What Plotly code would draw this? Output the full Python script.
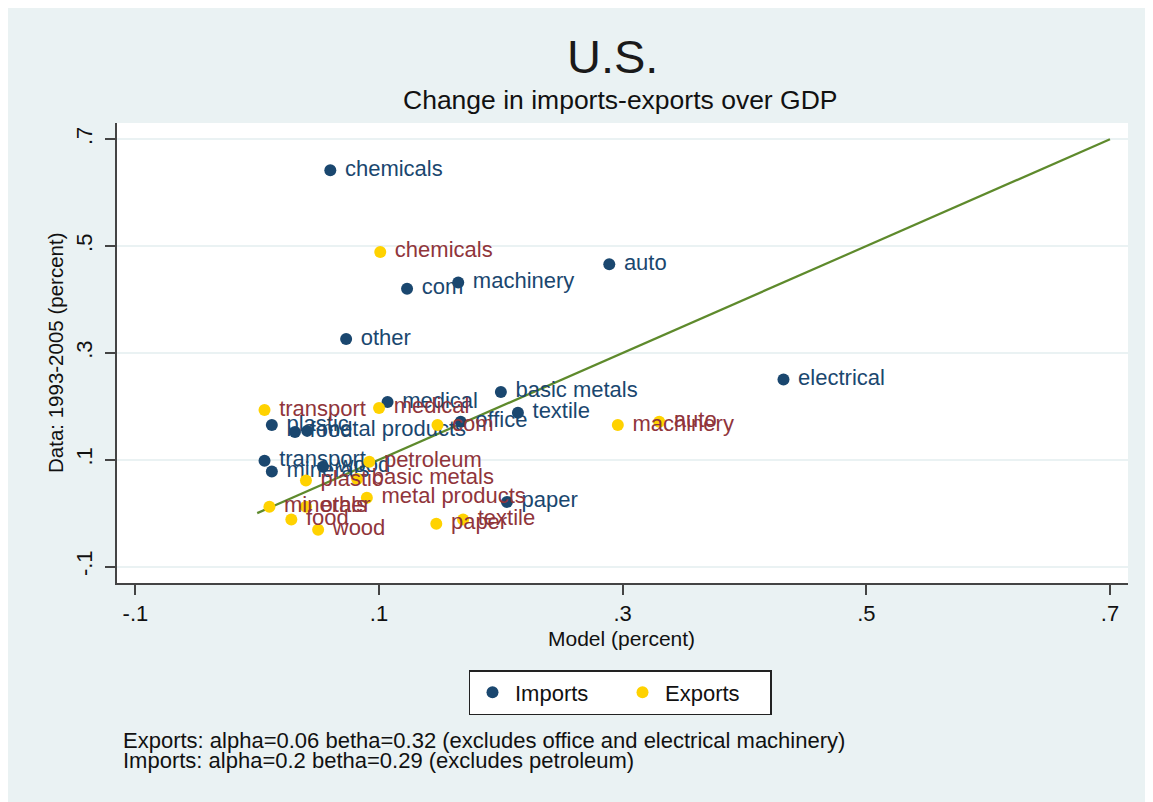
import plotly.graph_objects as go

# ---------------- data ----------------
imp_sectors = ["chemicals", "auto", "machinery", "com", "other", "electrical",
               "basic metals", "textile", "medical", "office", "plastic", "food",
               "metal products", "transport", "minerals", "wood", "paper"]
imp_model = [0.060, 0.289, 0.165, 0.123, 0.073, 0.432,
             0.200, 0.214, 0.107, 0.167, 0.012, 0.031,
             0.041, 0.006, 0.012, 0.054, 0.205]
imp_data = [0.642, 0.466, 0.432, 0.420, 0.326, 0.250,
            0.227, 0.188, 0.208, 0.171, 0.165, 0.152,
            0.154, 0.098, 0.078, 0.087, 0.021]

exp_sectors = ["chemicals", "transport", "medical", "com", "machinery", "auto",
               "petroleum", "plastic", "basic metals", "metal products",
               "minerals", "other", "food", "wood", "paper", "textile"]
exp_model = [0.101, 0.006, 0.100, 0.148, 0.296, 0.330,
             0.092, 0.040, 0.082, 0.090,
             0.010, 0.040, 0.028, 0.050, 0.147, 0.169]
exp_data = [0.489, 0.193, 0.197, 0.165, 0.165, 0.171,
            0.096, 0.061, 0.064, 0.029,
            0.012, 0.012, -0.012, -0.031, -0.020, -0.012]

fit_x = [0.0, 0.7]
fit_y = [0.0, 0.7]

tick_vals = [-0.1, 0.1, 0.3, 0.5, 0.7]
tick_text = ["-.1", ".1", ".3", ".5", ".7"]

title_text = "U.S."
subtitle_text = "Change in imports-exports over GDP"
x_title = "Model (percent)"
y_title = "Data: 1993-2005 (percent)"
note_lines = ["Exports: alpha=0.06 betha=0.32 (excludes office and electrical machinery)",
              "Imports: alpha=0.2 betha=0.29 (excludes petroleum)"]

# ---------------- style ----------------
FONT = "Liberation Sans, Arial, sans-serif"
BG = "#EAF2F3"
IMP_C = "#1A476F"
EXP_C = "#FFD200"
IMP_T = "#1A476F"
EXP_T = "#90353B"
LINE_C = "#5E8A2C"
NB = "\u00a0"

OFF = 8                      # page body margin
W, H = 1153 - OFF, 802 - OFF
# plot area in page pixels: x 117..1128, y 123..583
L = 117 - OFF
T = 123 - OFF
R = W - (1128 - OFF)
B = H - (583 - OFF)
PW, PH = W - L - R, H - T - B


def px_x(p):
    return (p - OFF - L) / PW


def px_y(p):
    return (H - B - (p - OFF)) / PH


fig = go.Figure()

fig.add_trace(go.Scatter(
    x=fit_x, y=fit_y, mode="lines",
    line=dict(color=LINE_C, width=2.2), showlegend=False, hoverinfo="skip"))

fig.add_trace(go.Scatter(
    x=imp_model, y=imp_data, mode="markers+text", text=[NB + s for s in imp_sectors],
    textposition="middle right",
    textfont=dict(family=FONT, size=22, color=IMP_T),
    marker=dict(color=IMP_C, size=12), showlegend=False))

fig.add_trace(go.Scatter(
    x=exp_model, y=exp_data, mode="markers+text", text=[NB + s for s in exp_sectors],
    textposition="middle right",
    textfont=dict(family=FONT, size=22, color=EXP_T),
    marker=dict(color=EXP_C, size=12), showlegend=False))

# legend entries
fig.add_trace(go.Scatter(x=[None], y=[None], mode="markers", name="Imports",
                         marker=dict(color=IMP_C, size=12)))
fig.add_trace(go.Scatter(x=[None], y=[None], mode="markers", name="Exports",
                         marker=dict(color=EXP_C, size=12)))

shapes = [
    dict(type="rect", xref="paper", yref="paper", layer="below",
         x0=0, x1=1, y0=0, y1=1, fillcolor="white", line=dict(width=0)),
]

annotations = [
    dict(text=title_text, x=px_x(612), y=px_y(57), xref="paper", yref="paper",
         showarrow=False, xanchor="center", yanchor="middle",
         font=dict(family=FONT, size=47, color="#1a1a1a")),
    dict(text=subtitle_text, x=px_x(620), y=px_y(100), xref="paper", yref="paper",
         showarrow=False, xanchor="center", yanchor="middle",
         font=dict(family=FONT, size=26.5, color="#111111")),
    dict(text=x_title, x=px_x(621), y=px_y(638), xref="paper", yref="paper",
         showarrow=False, xanchor="center", yanchor="middle",
         font=dict(family=FONT, size=21, color="#111111")),
    dict(text=y_title, x=px_x(55), y=px_y(353), xref="paper", yref="paper",
         showarrow=False, xanchor="center", yanchor="middle", textangle=-90,
         font=dict(family=FONT, size=20.5, color="#111111")),
    dict(text=note_lines[0], x=px_x(121), y=px_y(740), xref="paper", yref="paper",
         showarrow=False, xanchor="left", yanchor="middle",
         font=dict(family=FONT, size=22, color="#111111")),
    dict(text=note_lines[1], x=px_x(121), y=px_y(760), xref="paper", yref="paper",
         showarrow=False, xanchor="left", yanchor="middle",
         font=dict(family=FONT, size=22, color="#111111")),
]

fig.update_layout(
    width=W, height=H,
    margin=dict(l=L, r=R, t=T, b=B, pad=0),
    paper_bgcolor=BG,
    plot_bgcolor="rgba(0,0,0,0)",
    font=dict(family=FONT, color="#111111"),
    shapes=shapes,
    annotations=annotations,
    showlegend=True,
    legend=dict(orientation="h", x=px_x(620), xanchor="center",
                y=px_y(670), yanchor="top",
                bgcolor="white", bordercolor="#222222", borderwidth=1.5,
                font=dict(family=FONT, size=22, color="#111111"),
                itemwidth=35, entrywidth=100, tracegroupgap=0),
    xaxis=dict(range=[-0.1151, 0.7148], tickvals=tick_vals, ticktext=tick_text,
               showgrid=False, zeroline=False, showline=True,
               linecolor="#444444", linewidth=1.5,
               ticks="outside", ticklen=10, tickwidth=1.5, tickcolor="#444444",
               tickfont=dict(family=FONT, size=22, color="#111111")),
    yaxis=dict(range=[-0.1308, 0.7304], tickvals=tick_vals, ticktext=tick_text,
               showgrid=True, gridcolor=BG, gridwidth=2, zeroline=False,
               showline=True, linecolor="#444444", linewidth=1.5,
               ticks="outside", ticklen=10, tickwidth=1.5, tickcolor="#444444",
               tickangle=-90, ticklabelstandoff=4,
               tickfont=dict(family=FONT, size=22, color="#111111")),
)

fig.write_html("out.html")
